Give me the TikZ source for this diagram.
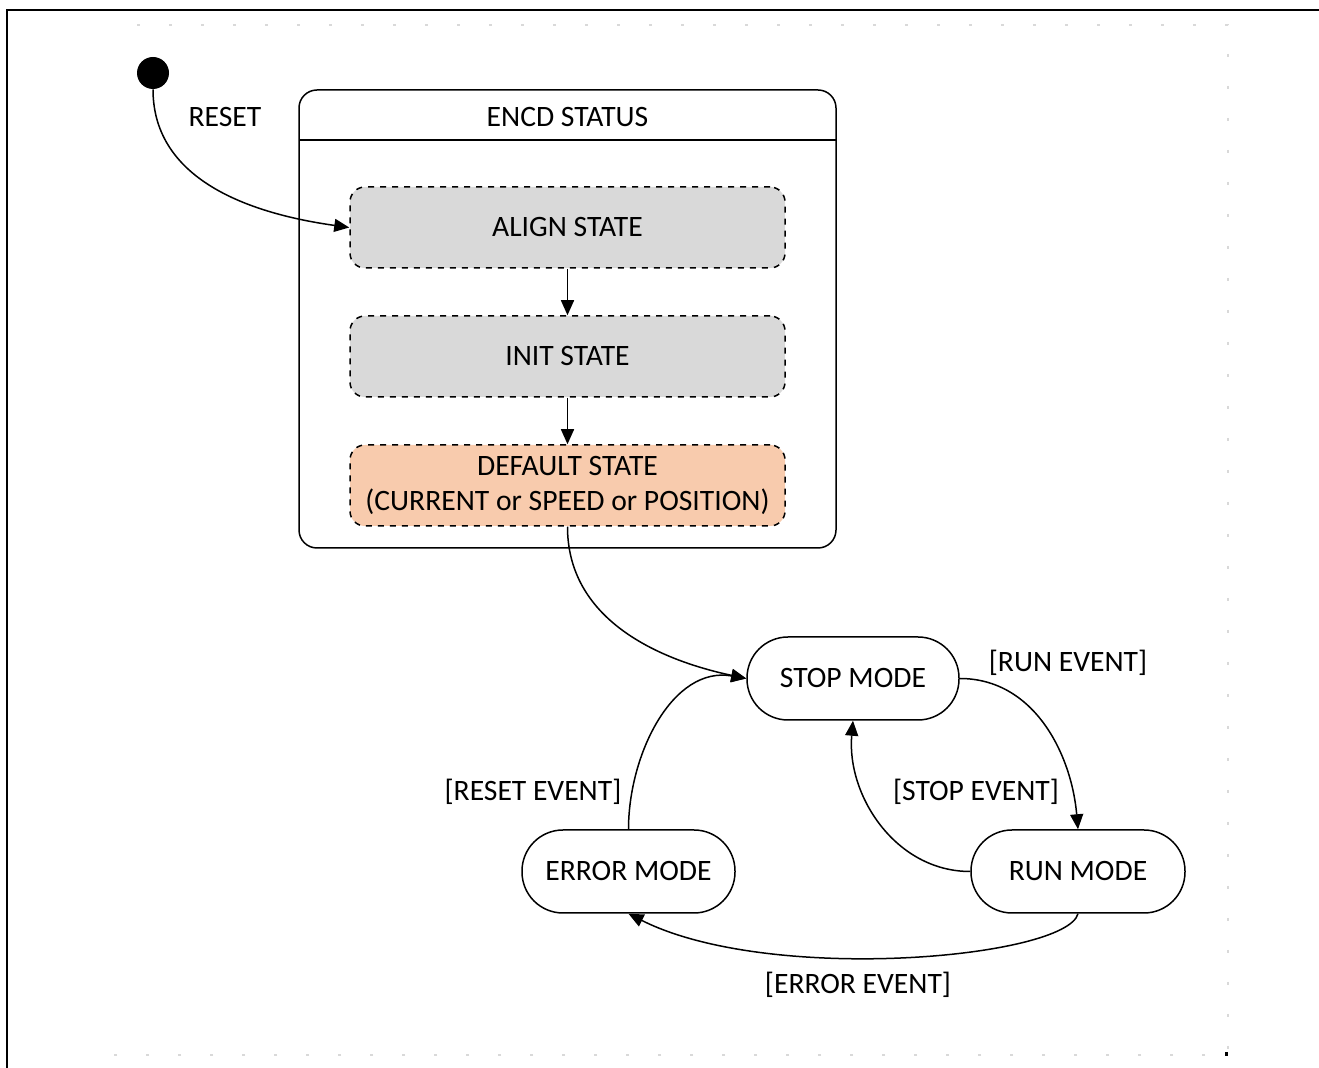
\documentclass[tikz,border=0pt]{standalone}
\usepackage{fontspec}
\setmainfont{Carlito}
\usetikzlibrary{arrows.meta}
\begin{document}
\begin{tikzpicture}[x=0.5pt,y=0.5pt,
  every node/.style={font=\fontsize{14.8}{17.5}\selectfont, inner sep=0pt, align=center},
  arr/.style={-{Triangle[length=7.5pt,width=6.5pt]}, line width=0.75pt},
  substate/.style={draw, dashed, line width=0.75pt, rounded corners=7.5pt, minimum width=217.5pt, minimum height=40.5pt},
  mode/.style={draw, line width=0.75pt, rounded corners=20.5pt, minimum height=41.5pt}]
\useasboundingbox (0,0) rectangle (1319,-1068);
% frame
\draw[line width=1pt] (7,-1068) -- (7,-10) -- (1319,-10);
\draw[gray!30, line width=0.6pt, dash pattern=on 1.5pt off 14.5pt] (137,-25) -- (1228,-25) -- (1228,-1055) -- (105,-1055);
\fill (1225,-1052) rectangle (1228,-1056);
% initial
\node[circle, fill=black, minimum size=16pt] (init) at (153,-73) {};
% container
\draw[line width=0.75pt, rounded corners=9pt] (299,-90) rectangle (836,-548);
\node[minimum width=268.5pt, minimum height=229pt] (encd) at (567.5,-319) {};
\draw[line width=0.75pt] (299,-140) -- (836,-140);
\node (encdt) at (567.5,-117) {ENCD STATUS};
% substates
\node[substate, fill=black!15] (align) at (567.5,-227.5) {ALIGN STATE};
\node[substate, fill=black!15] (initst) at (567.5,-356.5) {INIT STATE};
\node[substate, fill={rgb,255:red,248;green,203;blue,173}] (default) at (567.5,-485.5) {DEFAULT STATE\\(CURRENT or SPEED or POSITION)};
% modes
\node[mode, minimum width=106pt] (stop) at (853,-678.5) {STOP MODE};
\node[mode, minimum width=107pt] (run) at (1078,-871.5) {RUN MODE};
\node[mode, minimum width=106.5pt] (error) at (628.5,-871.5) {ERROR MODE};
% edges
\draw[arr] (init.south) to[out=-90, in=172] (align.west);
\draw[arr] (align.south) -- (initst.north);
\draw[arr] (initst.south) -- (default.north);
\draw[arr] (default.south) to[out=-90, in=168] (stop.west);
\draw[arr] (stop.east) to[out=0, in=95] (run.north);
\draw[arr] (run.west) to[out=180, in=-95] (stop.south);
\draw[arr] (error.north) to[out=90, in=170] (stop.west);
\draw[arr] (run.south) .. controls (1066,-958) and (770,-985) .. (error.south);
% labels
\node (l1) at (225,-117) {RESET};
\node (l2) at (1068,-663) {[RUN EVENT]};
\node (l3) at (976,-792) {[STOP EVENT]};
\node (l4) at (533,-792) {[RESET EVENT]};
\node (l5) at (858,-985) {[ERROR EVENT]};
\end{tikzpicture}
\end{document}
